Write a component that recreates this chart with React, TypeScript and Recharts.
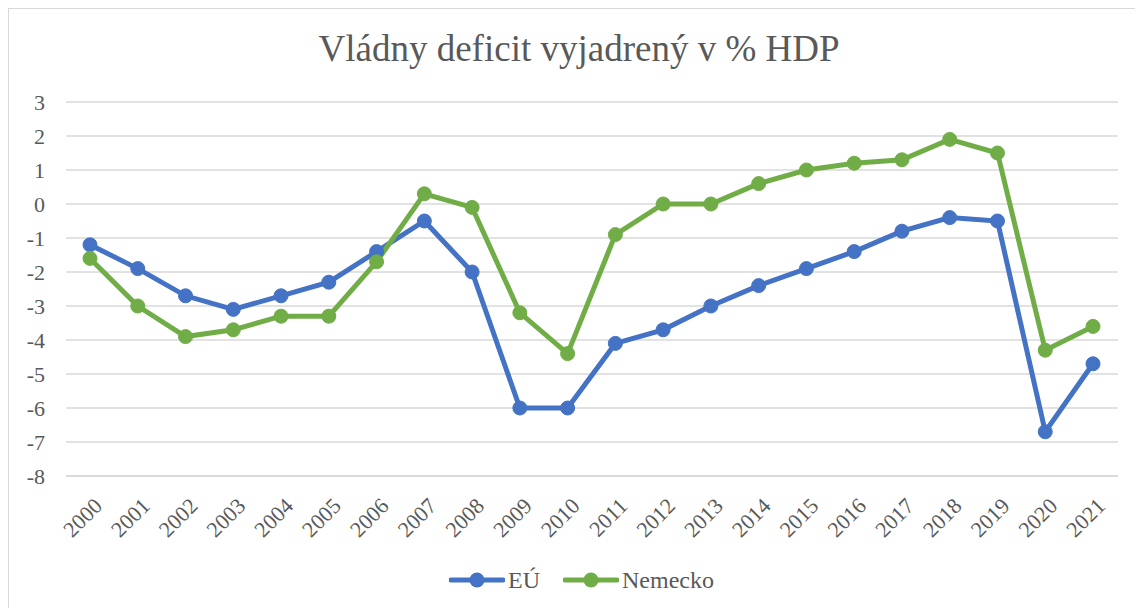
import React from "react";
import { LineChart, Line, XAxis, YAxis, CartesianGrid, Legend } from "recharts";

const YEARS = ["2000", "2001", "2002", "2003", "2004", "2005", "2006", "2007", "2008", "2009", "2010",
  "2011", "2012", "2013", "2014", "2015", "2016", "2017", "2018", "2019", "2020", "2021"];
const EU = [-1.2, -1.9, -2.7, -3.1, -2.7, -2.3, -1.4, -0.5, -2.0, -6.0, -6.0,
  -4.1, -3.7, -3.0, -2.4, -1.9, -1.4, -0.8, -0.4, -0.5, -6.7, -4.7];
const DE = [-1.6, -3.0, -3.9, -3.7, -3.3, -3.3, -1.7, 0.3, -0.1, -3.2, -4.4,
  -0.9, 0.0, 0.0, 0.6, 1.0, 1.2, 1.3, 1.9, 1.5, -4.3, -3.6];
const Y_TICKS = [3, 2, 1, 0, -1, -2, -3, -4, -5, -6, -7, -8];

const BLUE = "#4472C4";
const GREEN = "#70AD47";
const TEXT = "#595959";
const FONT = "Liberation Serif";

const data = YEARS.map((y, i) => ({ year: y, eu: EU[i], de: DE[i] }));

const SERIES = [
  { key: "eu", name: "EÚ", color: BLUE },
  { key: "de", name: "Nemecko", color: GREEN },
];

function LegendBox() {
  return (
    <div style={{ height: 40, paddingLeft: 36, display: "flex", justifyContent: "center", alignItems: "center", gap: 23, fontFamily: FONT, fontSize: 24, color: TEXT }}>
      {SERIES.map((s) => (
        <div key={s.key} style={{ display: "flex", alignItems: "center", gap: 3 }}>
          <svg width={56} height={18}>
            <line x1={2} y1={9} x2={54} y2={9} stroke={s.color} strokeWidth={5} strokeLinecap="round" />
            <circle cx={28} cy={9} r={7.5} fill={s.color} />
          </svg>
          <span style={{ fontFamily: FONT }}>{s.name}</span>
        </div>
      ))}
    </div>
  );
}

function YearTick({ x, y, payload }: any) {
  return (
    <text x={x} y={y} transform={`rotate(-45 ${x} ${y})`} textAnchor="end" dy={26} dx={-7}
      fill={TEXT} style={{ fontFamily: FONT, fontSize: 22 }}>
      {payload.value}
    </text>
  );
}

export default function App() {
  return (
    <div style={{ position: "relative", width: 1127, height: 600, borderTop: "1.5px solid #d9d9d9", borderLeft: "1.5px solid #d9d9d9", boxSizing: "border-box", background: "#fff", fontFamily: FONT }}>
      <div style={{ position: "absolute", top: 18, left: 0, width: 1140, textAlign: "center", fontFamily: FONT, fontSize: 37, color: TEXT }}>
        Vládny deficit vyjadrený v % HDP
      </div>
      <LineChart width={1125} height={598} data={data} margin={{ top: 93, right: 16, left: 0, bottom: 7 }}
        style={{ fontFamily: FONT }}>
        <CartesianGrid horizontal vertical={false} stroke="#d9d9d9" strokeWidth={1.5} />
        <XAxis dataKey="year" interval={0} padding={{ left: 24, right: 25 }} height={84}
          axisLine={{ stroke: "#d9d9d9", strokeWidth: 1.5 }} tickLine={false} tick={<YearTick />} />
        <YAxis domain={[-8, 3]} ticks={Y_TICKS} width={57} axisLine={false} tickLine={false} tickMargin={15}
          tick={{ fill: TEXT, fontSize: 22, style: { fontFamily: FONT } }} />
        <Legend verticalAlign="bottom" content={<LegendBox />} />
        {SERIES.map((s) => (
          <Line key={s.key} dataKey={s.key} name={s.name} stroke={s.color} strokeWidth={5} isAnimationActive={false}
            dot={{ r: 7, fill: s.color, stroke: s.color, strokeWidth: 1 }} activeDot={false} />
        ))}
      </LineChart>
    </div>
  );
}
